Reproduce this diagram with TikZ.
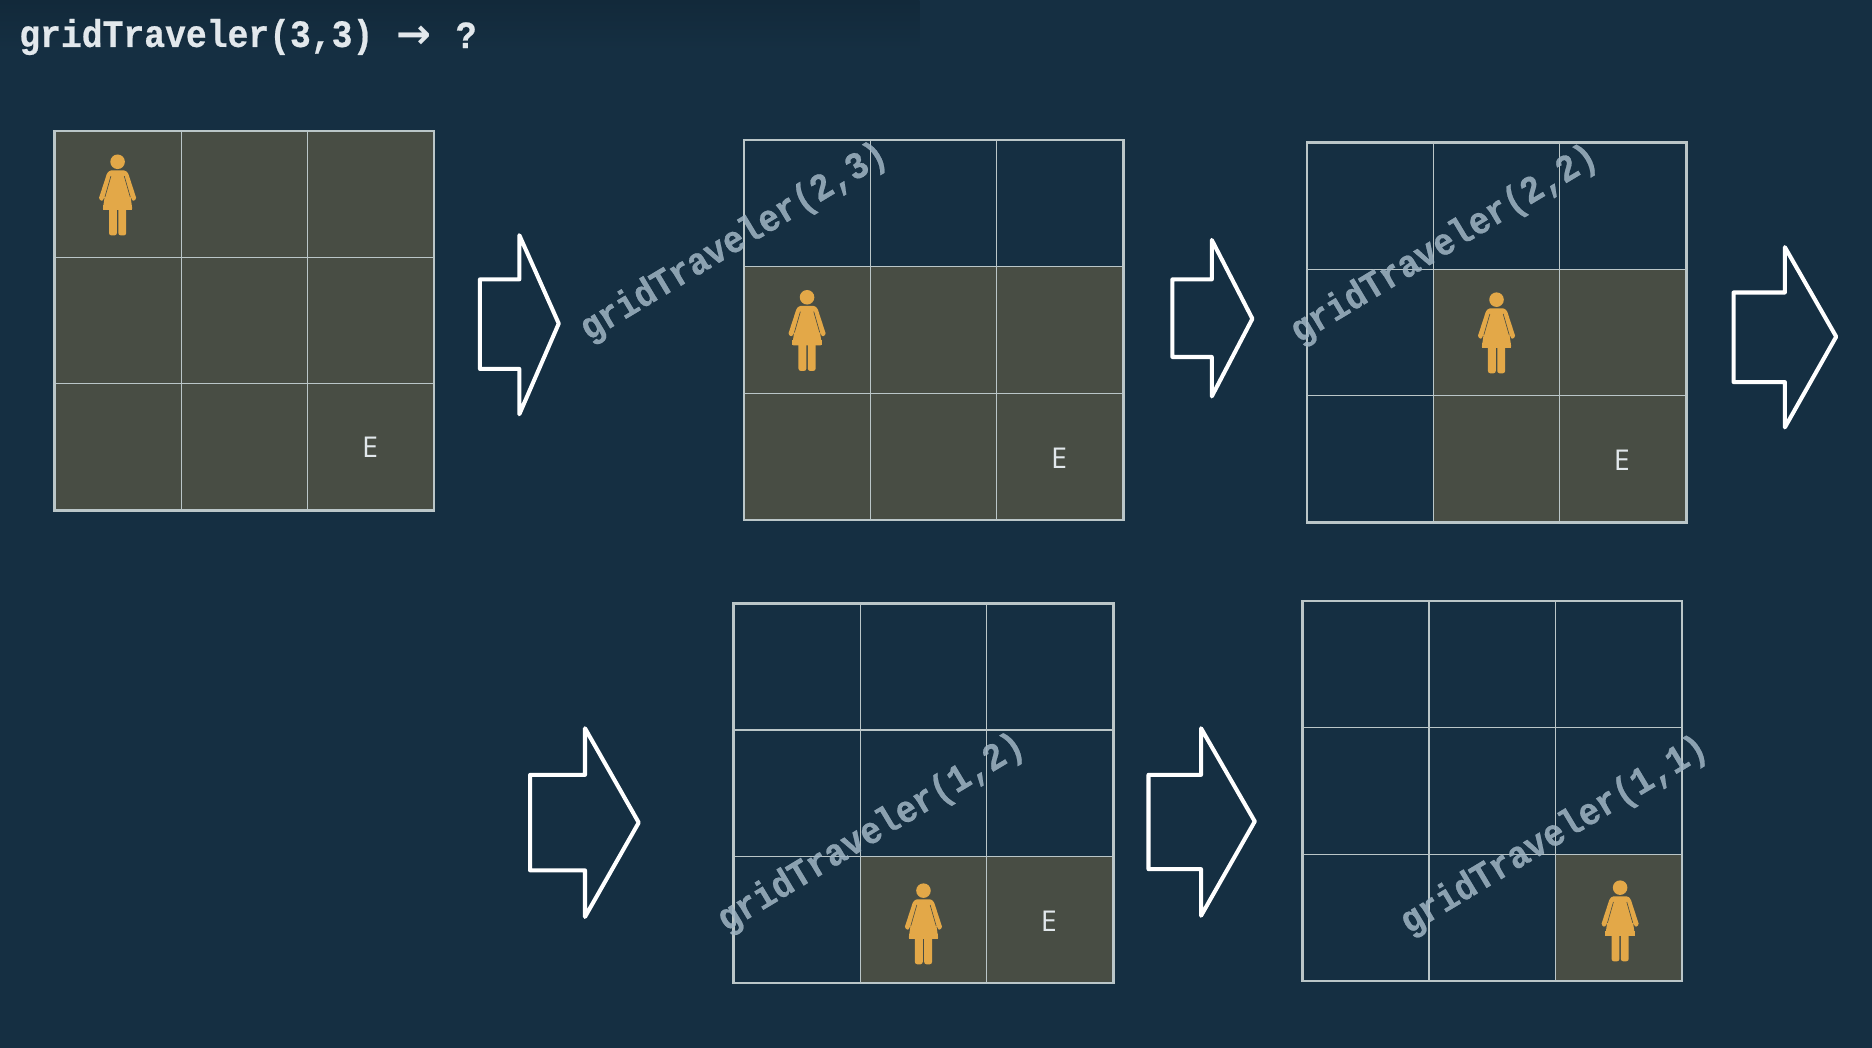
\documentclass[tikz,border=0pt]{standalone}
\usepackage{fontspec}
\newfontfamily\monof{Liberation Mono}[FakeStretch=0.9,BoldFeatures={FakeBold=0.6}]
\newfontfamily\arrowf{DejaVu Sans}
\newfontfamily\sansf{Open Sans}
\usetikzlibrary{calc}
\definecolor{bgc}{HTML}{152F42}
\definecolor{bgtop}{HTML}{12293A}
\definecolor{cellc}{HTML}{484D44}
\definecolor{gridc}{HTML}{BAC6C8}
\definecolor{personc}{HTML}{E3A848}
\definecolor{titlec}{HTML}{E2E8EC}
\definecolor{rotc}{HTML}{A0B5C4}
\tikzset{
  x=1pt,y=-1pt,
  titletext/.style={inner sep=0,anchor=west,text=titlec,font=\monof\bfseries\fontsize{32.3}{32}\selectfont},
  rotlabel/.style={inner sep=0,rotate=31,text=rotc,text opacity=.85,font=\monof\bfseries\fontsize{32}{32}\selectfont},
  endmark/.style={inner sep=0,text=titlec,font=\sansf\fontsize{24}{24}\selectfont},
  cellfill/.style={fill=cellc,draw=none},
  outer/.style={draw=gridc,line width=2pt},
  inner/.style={draw=gridc,line width=1pt},
  bigarrow/.style={draw=white,line width=3.4pt,line join=round,fill=none},
  person/.pic={
    \fill[personc] (0,0) circle[radius=6.1];
    \fill[personc,rounded corners=1pt]
      (-6.5,7.3) -- (6.5,7.3) -- (8.8,9.5) -- (15.8,31) -- (12.8,33.2) -- (10.8,29)
      -- (12.4,40.2) -- (-12.4,40.2) -- (-10.8,29) -- (-12.8,33.2) -- (-15.8,31) -- (-8.8,9.5) -- cycle;
    \draw[cellc,line width=.5pt] (5.6,12) -- (10.6,29.5) (-5.6,12) -- (-10.6,29.5);
    \fill[personc,rounded corners=2pt] (.6,36) rectangle (7.2,61.7);
    \fill[personc,rounded corners=2pt] (-.6,36) rectangle (-7.2,61.7);
    \fill[personc] (-12.4,36) -- (12.4,36) -- (12.4,40.2) -- (-12.4,40.2) -- cycle;
  },
}
\newcommand{\gridframe}[1]{%
  \draw[inner] ($(#1)+(106,0)$) -- ++(0,318) ($(#1)+(212,0)$) -- ++(0,318)
    ($(#1)+(0,106)$) -- ++(318,0) ($(#1)+(0,212)$) -- ++(318,0);
  \draw[outer] (#1) rectangle ++(318,318);}
\newcommand{\cellat}[3]{\fill[cellfill] ($(#1)+(#2*106,#3*106)$) rectangle ++(106,106);}
\begin{document}
\begin{tikzpicture}
\useasboundingbox (0,0) rectangle (1568,877.8);
\fill[bgc] (0,0) rectangle (1568,877.8);
\shade[top color=bgtop,bottom color=bgc] (0,0) rectangle (770,42);

\node[titletext] (title) at (16,31) {gridTraveler(3,3)};
\node[inner sep=0,text=titlec,font=\arrowf\bfseries\fontsize{35}{35}\selectfont] (tarrow) at (346.5,31) {→};
\node[titletext,anchor=center] (tq) at (390.5,29.5) {?};

% grid 1
\coordinate (g1) at (45.7,109.5);
\foreach \c in {0,1,2}{\foreach \r in {0,1,2}{\cellat{g1}{\c}{\r}}}
\gridframe{g1}
\pic at (98.5,135.5) {person};
\node[endmark] (e1) at (310,375) {E};

% arrow 1
\draw[bigarrow] (402,234) -- (435,234) -- (435,197) -- (468,271) -- (435,347) -- (435,309) -- (402,309) -- cycle;

% grid 2
\coordinate (g2) at (623,117.5);
\foreach \c in {0,1,2}{\foreach \r in {1,2}{\cellat{g2}{\c}{\r}}}
\gridframe{g2}
\pic at (676,249) {person};
\node[endmark] (e2) at (887,383.5) {E};
\node[rotlabel] (l2) at (615,203) {gridTraveler(2,3)};

% arrow 2
\draw[bigarrow] (982,234) -- (1015,234) -- (1015,201) -- (1049,267) -- (1015,332) -- (1015,299) -- (982,299) -- cycle;

% grid 3
\coordinate (g3) at (1094.5,119.5);
\foreach \c in {1,2}{\foreach \r in {1,2}{\cellat{g3}{\c}{\r}}}
\gridframe{g3}
\pic at (1253.5,251) {person};
\node[endmark] (e3) at (1358.5,385.5) {E};
\node[rotlabel] (l3) at (1210,205) {gridTraveler(2,2)};

% arrow 3
\draw[bigarrow] (1452,245) -- (1495,245) -- (1495,207) -- (1538,282) -- (1495,358) -- (1495,320) -- (1452,320) -- cycle;

% arrow 4
\draw[bigarrow] (444,649) -- (490,649) -- (490,610) -- (535,689) -- (490,768) -- (490,729) -- (444,729) -- cycle;

% grid 4
\coordinate (g4) at (614.5,505.5);
\foreach \c in {1,2}{\cellat{g4}{\c}{2}}
\gridframe{g4}
\pic at (773.5,746) {person};
\node[endmark] (e4) at (878.5,771.5) {E};
\node[rotlabel] (l4) at (730,698) {gridTraveler(1,2)};

% arrow 5
\draw[bigarrow] (962,649) -- (1006,649) -- (1006,610) -- (1051,688) -- (1006,767) -- (1006,728) -- (962,728) -- cycle;

% grid 5
\coordinate (g5) at (1091,503.5);
\cellat{g5}{2}{2}
\gridframe{g5}
\pic at (1357,743.5) {person};
\node[rotlabel] (l5) at (1302,700) {gridTraveler(1,1)};
\end{tikzpicture}
\end{document}
